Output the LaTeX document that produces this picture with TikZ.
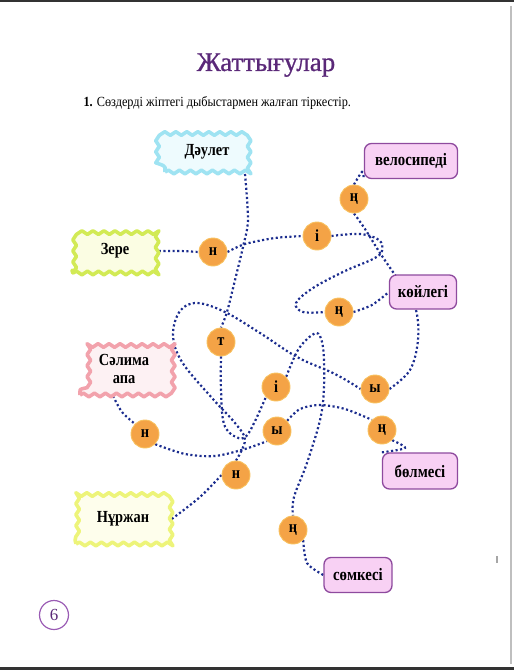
\documentclass[tikz,border=0pt]{standalone}
\usepackage{fontspec}
\setmainfont{Liberation Serif}
\newfontfamily\labelfont[FakeStretch=0.85]{Liberation Serif}
\newfontfamily\taskfont[FakeStretch=0.88]{Liberation Serif}
\newfontfamily\titlefont[FakeBold=0.9]{Liberation Serif}
\usetikzlibrary{decorations.pathmorphing}
\definecolor{dotblue}{HTML}{1B2C8E}
\definecolor{titlepurple}{HTML}{5A2878}
\definecolor{boxborder}{HTML}{8E4A9E}
\definecolor{boxfill}{HTML}{F8D1F4}
\definecolor{circfill}{HTML}{F4A346}
\definecolor{circborder}{HTML}{F8C15E}
\definecolor{cyanb}{HTML}{9FE3F2}
\definecolor{cyanf}{HTML}{EEFBFE}
\definecolor{greenb}{HTML}{D2EA55}
\definecolor{greenf}{HTML}{FBFDE3}
\definecolor{pinkb}{HTML}{F2A2AC}
\definecolor{pinkf}{HTML}{FDF1F3}
\definecolor{yellowb}{HTML}{EDF47A}
\definecolor{yellowf}{HTML}{FEFEEC}
\definecolor{pagepurple}{HTML}{9A5CB4}
\pgfdeclarelayer{bg}
\pgfsetlayers{bg,main}
\tikzset{
  cloudbox/.style={draw, line width=3.6bp, line join=round, decorate,
    decoration={snake, amplitude=1.8bp, segment length=11bp},
    font=\labelfont\fontsize{17}{19}\selectfont\bfseries, align=center, inner sep=2bp},
  wordbox/.style={draw=boxborder, fill=boxfill, line width=1.3bp, rounded corners=7bp,
    font=\labelfont\fontsize{17.5}{19}\selectfont\bfseries, inner sep=0bp},
  letter/.style={circle, fill=circfill, draw=circborder, line width=0.9bp,
    minimum size=28bp, inner sep=0bp, font=\labelfont\fontsize{17}{19}\selectfont\bfseries},
  thread/.style={dotblue, line width=2.2bp, dash pattern=on 2.1bp off 2.5bp}
}
\begin{document}
\begin{tikzpicture}[x=1bp,y=-1bp]
\useasboundingbox (0,0) rectangle (514,670);
% page edges
\draw[black!80, line width=2bp] (0,1.5) -- (514,1.5);
\draw[black!80, line width=3bp] (0,668.5) -- (514,668.5);
\draw[black!25, line width=1.5bp] (511,6) -- (511,664);
\fill[black!35] (496,556) rectangle (498,563);

% title
\node[anchor=base, text=titlepurple, font=\titlefont\fontsize{27}{30}\selectfont] (title) at (266,71) {Жаттығулар};
\node[anchor=base west, font=\taskfont\fontsize{14}{16}\selectfont] (task) at (80,107) {\textbf{1.} Сөздерді жіптегі дыбыстармен жалғап тіркестір.};

% names
\node[cloudbox, draw=cyanb, fill=cyanf, minimum width=84bp, minimum height=40bp] (daulet) at (207,152) {Дәулет};
\node[cloudbox, draw=greenb, fill=greenf, minimum width=84bp, minimum height=44bp] (zere) at (115,251) {Зере};
\node[cloudbox, draw=pinkb, fill=pinkf, minimum width=88bp, minimum height=52bp] (salima) at (124,369) {Сәлима\\апа};
\node[cloudbox, draw=yellowb, fill=yellowf, minimum width=94bp, minimum height=50bp] (nurzhan) at (123,519) {Нұржан};

% objects
\node[wordbox, minimum width=93bp, minimum height=35bp] (velo) at (411,161) {велосипеді};
\node[wordbox, minimum width=67bp, minimum height=34bp] (koilek) at (423,292) {көйлегі};
\node[wordbox, minimum width=75bp, minimum height=36bp] (bolme) at (420,471) {бөлмесі};
\node[wordbox, minimum width=68bp, minimum height=35bp] (somke) at (358,575) {сөмкесі};

% letters
\node[letter] (n1) at (213,252) {н};
\node[letter] (i1) at (317,236) {і};
\node[letter] (ng1) at (354,199) {ң};
\node[letter] (ng2) at (339,312) {ң};
\node[letter] (t) at (221,342) {т};
\node[letter] (n2) at (145,434) {н};
\node[letter] (i2) at (276,387) {і};
\node[letter] (y1) at (375,389) {ы};
\node[letter] (y2) at (277,431) {ы};
\node[letter] (ng3) at (382,430) {ң};
\node[letter] (n3) at (236,475) {н};
\node[letter] (ng4) at (293,530) {ң};

% page number
\node[circle, draw=pagepurple, line width=1.2bp, minimum size=29bp, inner sep=0bp,
  text=titlepurple, font=\fontsize{17}{19}\selectfont] (page) at (54,615) {6};

\begin{pgfonlayer}{bg}
% Зере - н - і - ң - көйлегі
\draw[thread] plot[smooth] coordinates {(zere.east) (180,251) (n1.west)};
\draw[thread] plot[smooth] coordinates {(n1.east) (245,244) (275,238) (i1.west)};
\draw[thread] plot[smooth, tension=0.6] coordinates {(i1.east) (360,234) (379,240) (382,251) (373,259) (345,271) (313,288) (296,303) (303,312) (ng2.west)};
\draw[thread] plot[smooth] coordinates {(ng2.east) (372,305) (koilek.west)};
% Дәулет - т - і - ң - сөмкесі
\draw[thread] plot[smooth] coordinates {(245,174) (248,220) (243,247) (235,280) (227,312) (t.north)};
\draw[thread] plot[smooth, tension=0.6] coordinates {(t.south) (221,390) (224,424) (236,437) (248,434) (i2.south west)};
\draw[thread] plot[smooth, tension=0.6] coordinates {(i2.north east) (298,350) (312,335) (320,336) (324,360) (322,410) (308,460) (294,497) (ng4.north)};
\draw[thread] plot[smooth] coordinates {(ng4.south east) (307,563) (somke.west)};
% Сәлима апа - н - ы - ң - бөлмесі
\draw[thread] plot[smooth] coordinates {(113,396) (122,412) (n2.north west)};
\draw[thread] plot[smooth] coordinates {(n2.south east) (185,454) (215,456) (245,449) (y2.south west)};
\draw[thread] plot[smooth] coordinates {(y2.north east) (300,409) (320,405) (345,409) (ng3.north west)};
\draw[thread] plot[smooth] coordinates {(ng3.south east) (405,448) (bolme.north west)};
% Нұржан - н - ы - ң - велосипеді
\draw[thread] plot[smooth] coordinates {(nurzhan.east) (200,497) (n3.west)};
\draw[thread] plot[smooth, tension=0.6] coordinates {(n3.north) (245,440) (235,423) (212,398) (182,362) (173,335) (180,311) (197,303) (225,312) (260,333) (297,357) (335,374) (y1.west)};
\draw[thread] plot[smooth, tension=0.6] coordinates {(y1.east) (410,370) (418,340) (416,310) (405,290) (395,275) (380,253) (365,229) (ng1.south)};
\draw[thread] plot[smooth] coordinates {(ng1.north) (362,172) (velo.south west)};
\end{pgfonlayer}
\end{tikzpicture}
\end{document}
